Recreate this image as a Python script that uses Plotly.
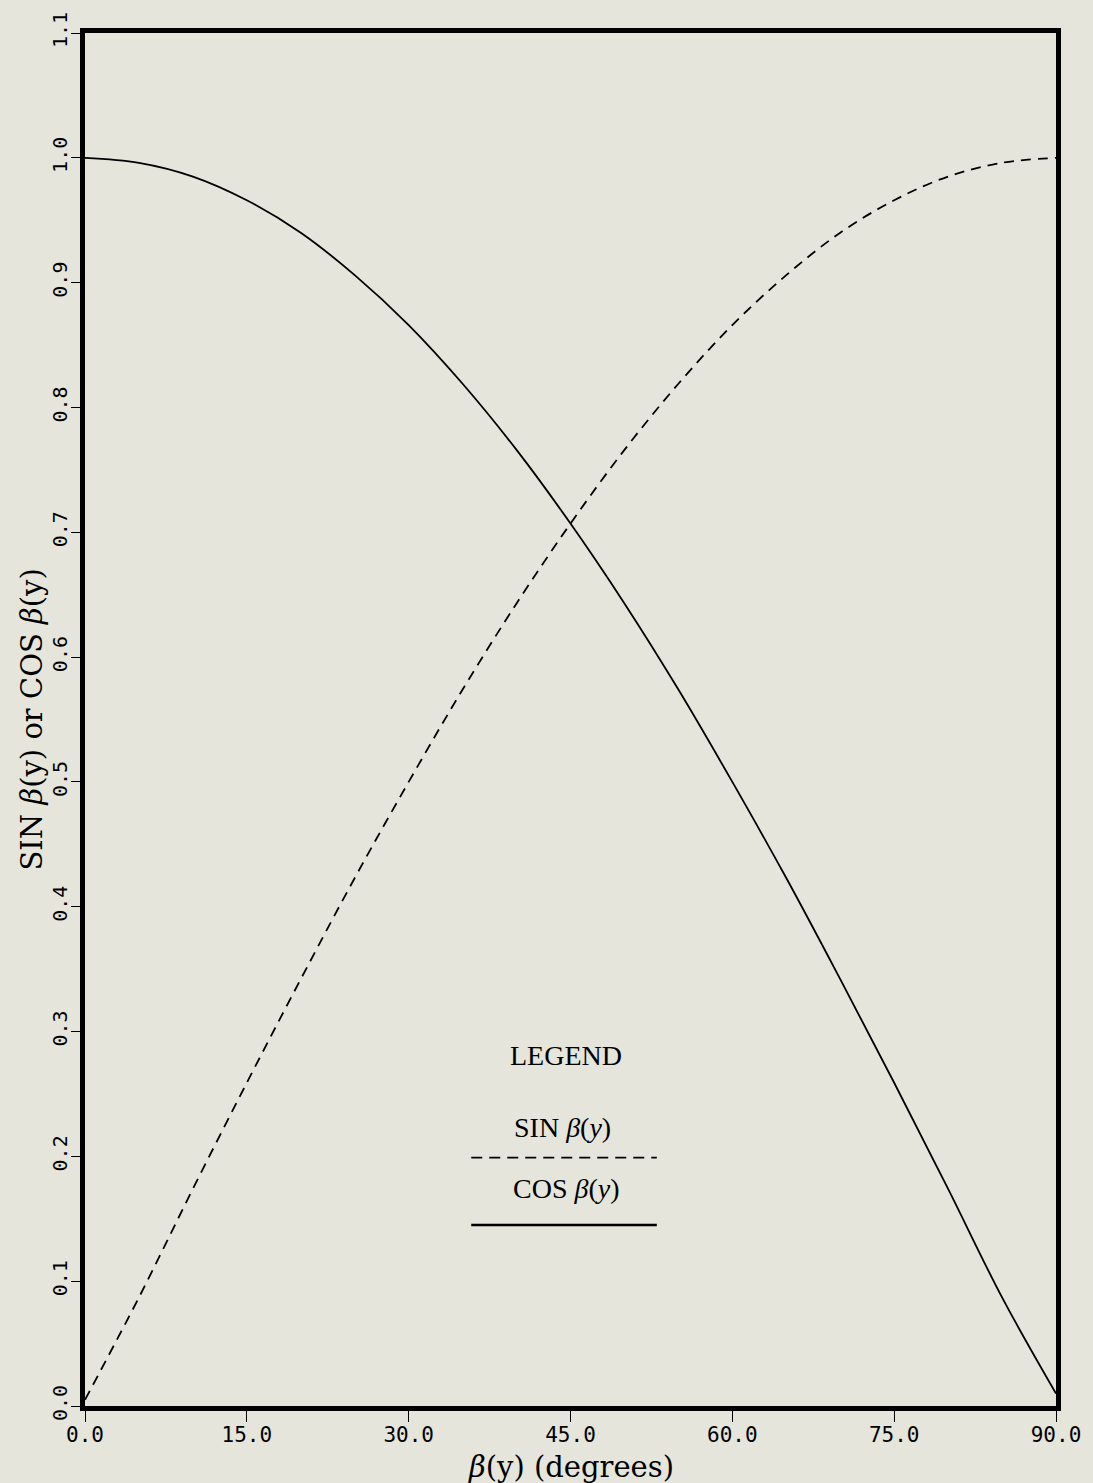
import plotly.graph_objects as go

# Data (every 5 degrees)
beta_deg = [0, 5, 10, 15, 20, 25, 30, 35, 40, 45, 50, 55, 60, 65, 70, 75, 80, 85, 90]
sin_vals = [0.005, 0.087, 0.174, 0.259, 0.342, 0.423, 0.500, 0.574, 0.643, 0.707,
            0.766, 0.819, 0.866, 0.906, 0.940, 0.966, 0.985, 0.996, 1.000]
cos_vals = [1.000, 0.996, 0.985, 0.966, 0.940, 0.906, 0.866, 0.819, 0.766, 0.707,
            0.643, 0.574, 0.500, 0.423, 0.342, 0.259, 0.174, 0.087, 0.010]

x_ticks = [0, 15, 30, 45, 60, 75, 90]
x_tick_labels = ["0.0", "15.0", "30.0", "45.0", "60.0", "75.0", "90.0"]
y_ticks = [0.0, 0.1, 0.2, 0.3, 0.4, 0.5, 0.6, 0.7, 0.8, 0.9, 1.0, 1.1]
y_tick_labels = ["0.0", "0.1", "0.2", "0.3", "0.4", "0.5", "0.6", "0.7", "0.8", "0.9", "1.0", "1.1"]

legend_x = [35.8, 53.0]
legend_sin_y = 0.199
legend_cos_y = 0.145

BG = "#e5e5dc"
SERIF = "Liberation Serif"
TITLE_SERIF = "DejaVu Serif"
MONO_SANS = "DejaVu Sans Mono"

fig = go.Figure()
fig.add_trace(go.Scatter(x=beta_deg, y=sin_vals, mode="lines", line_shape="spline",
                         line=dict(color="black", width=1.8, dash="10px,7px"), name="SIN"))
fig.add_trace(go.Scatter(x=beta_deg, y=cos_vals, mode="lines", line_shape="spline",
                         line=dict(color="black", width=1.8), name="COS"))
# legend sample lines
fig.add_trace(go.Scatter(x=legend_x, y=[legend_sin_y, legend_sin_y], mode="lines",
                         line=dict(color="black", width=1.8, dash="11px,7px")))
fig.add_trace(go.Scatter(x=legend_x, y=[legend_cos_y, legend_cos_y], mode="lines",
                         line=dict(color="black", width=2.4)))

fig.add_annotation(x=44.6, y=0.281, text="LEGEND", showarrow=False,
                   font=dict(family=SERIF, size=28, color="black"))
fig.add_annotation(x=44.3, y=0.223, text="SIN <i>β</i>(<i>y</i>)", showarrow=False,
                   font=dict(family=SERIF, size=28, color="black"))
fig.add_annotation(x=44.6, y=0.174, text="COS <i>β</i>(<i>y</i>)", showarrow=False,
                   font=dict(family=SERIF, size=28, color="black"))

# axis titles
fig.add_annotation(xref="paper", yref="paper", x=0.5, y=-0.0443, yanchor="middle",
                   text="<i>β</i>(y) (degrees)", showarrow=False,
                   font=dict(family=TITLE_SERIF, size=29, color="black"))
fig.add_annotation(xref="paper", yref="paper", x=-0.0556, y=0.5, xanchor="center",
                   yanchor="middle",
                   text="SIN <i>β</i>(y) or COS <i>β</i>(y)", showarrow=False, textangle=-90,
                   font=dict(family=TITLE_SERIF, size=29, color="black"))

fig.update_layout(
    width=1093, height=1483,
    margin=dict(l=85, r=36, t=30, b=77),
    paper_bgcolor=BG, plot_bgcolor=BG,
    showlegend=False,
    xaxis=dict(range=[0, 90], tickvals=x_ticks, ticktext=x_tick_labels,
               showgrid=False, zeroline=False, showline=True, mirror=True,
               linewidth=5, linecolor="black", ticks="outside", ticklen=11,
               tickwidth=1, tickcolor="black", ticklabelstandoff=-5,
               tickfont=dict(family=MONO_SANS, size=21, color="black")),
    yaxis=dict(range=[0, 1.1], tickvals=y_ticks, ticktext=y_tick_labels,
               showgrid=False, zeroline=False, showline=True, mirror=True,
               linewidth=5, linecolor="black", ticks="outside", ticklen=9,
               tickwidth=1, tickcolor="black", tickangle=-90, ticklabelstandoff=-4,
               tickfont=dict(family=MONO_SANS, size=20, color="black")),
)

fig.write_html("out.html")
